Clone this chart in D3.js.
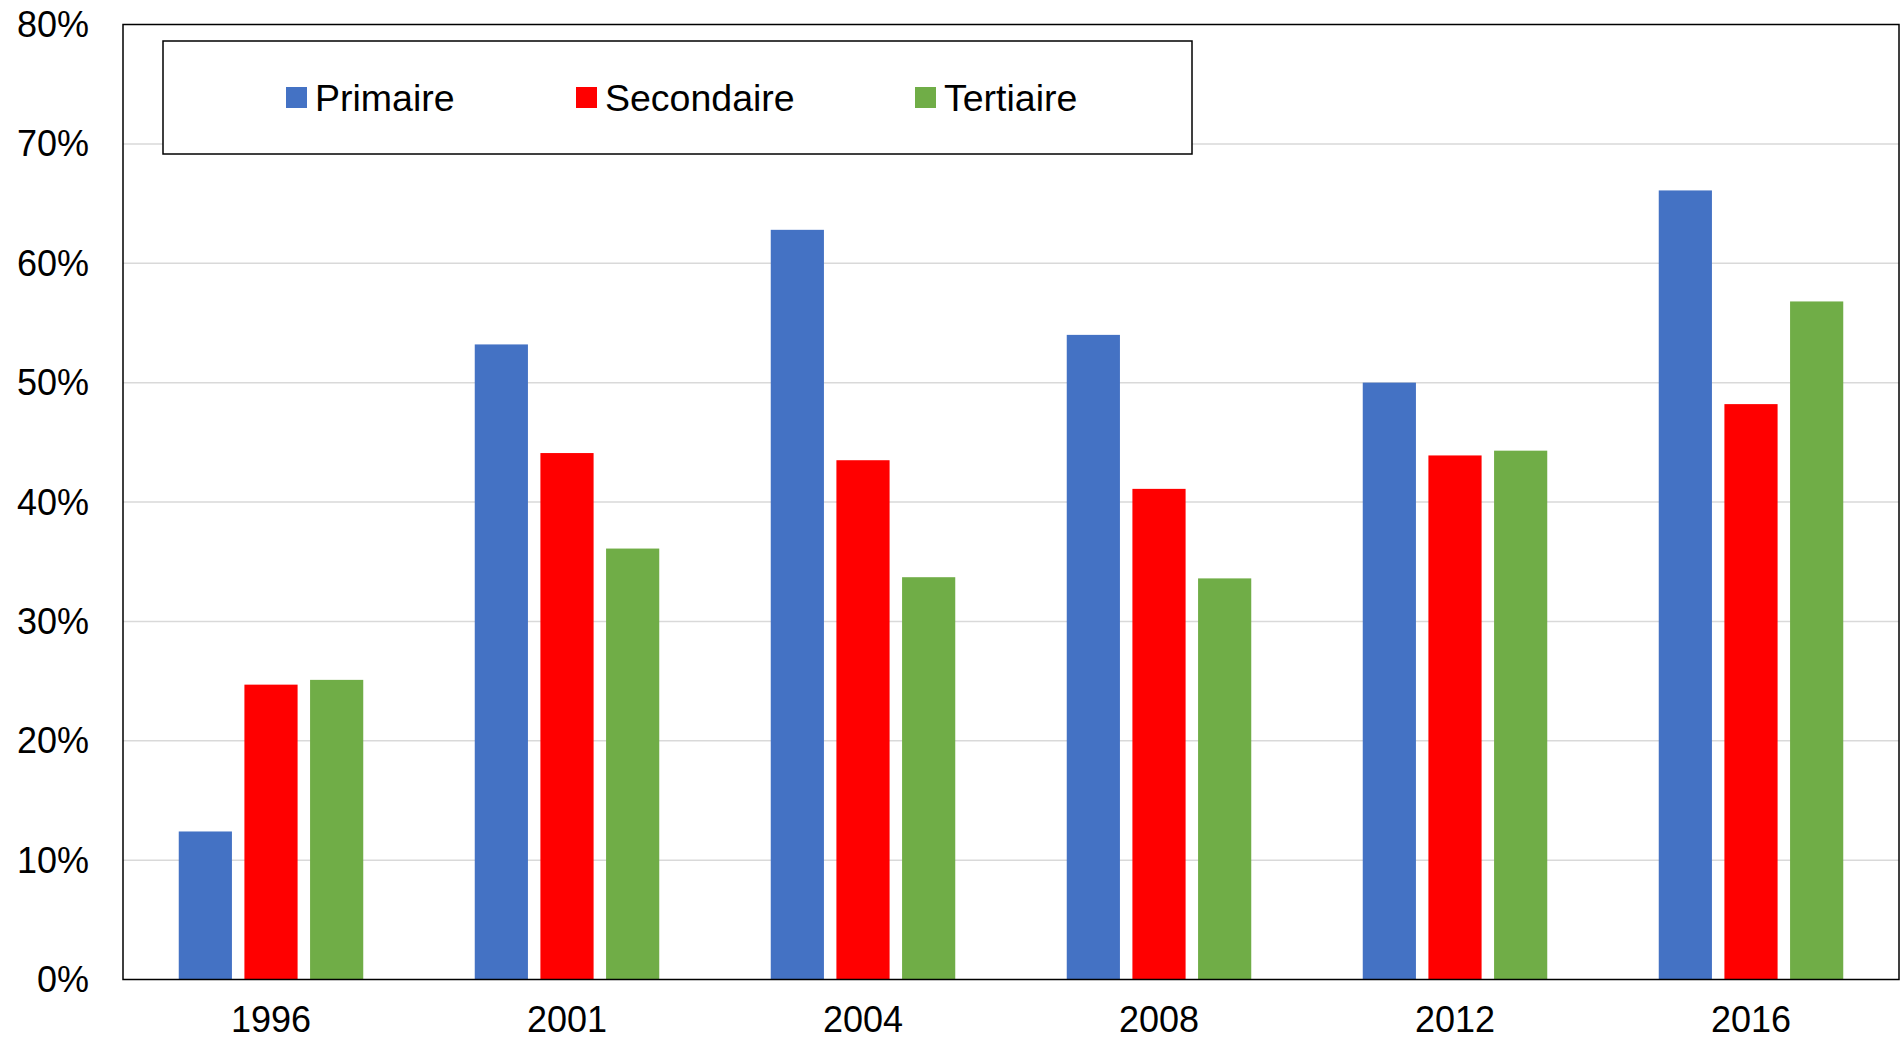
<!DOCTYPE html>
<html>
<head>
<meta charset="utf-8">
<script src="https://cdn.jsdelivr.net/npm/d3@7"></script>
<style>
  body { margin: 0; background: #fff; }
  svg { display: block; font-family: Arial, "Liberation Sans", sans-serif; }
</style>
</head>
<body>
<div id="chart"></div>
<script>
// chart data
const years = ["1996", "2001", "2004", "2008", "2012", "2016"];
const seriesNames = ["Primaire", "Secondaire", "Tertiaire"];
const primaire = [12.4, 53.2, 62.8, 54.0, 50.0, 66.1];
const secondaire = [24.7, 44.1, 43.5, 41.1, 43.9, 48.2];
const tertiaire = [25.1, 36.1, 33.7, 33.6, 44.3, 56.8];
const yTicks = [0, 10, 20, 30, 40, 50, 60, 70, 80];
const colors = ["#4472C4", "#FF0000", "#70AD47"];

const seriesValues = [primaire, secondaire, tertiaire];

const W = 1901, H = 1041;
const margin = { top: 24.5, right: 2, bottom: 61.5, left: 123 };
const width = W - margin.left - margin.right;
const height = H - margin.top - margin.bottom;

const svg = d3.select("#chart")
  .append("svg")
  .attr("width", W)
  .attr("height", H);

const g = svg.append("g")
  .attr("transform", `translate(${margin.left},${margin.top})`);

const x0 = d3.scaleBand()
  .domain(years)
  .range([0, width])
  .padding(0);

const groupW = 184.5; // width of the 3 bars of one year
const x1 = d3.scaleBand()
  .domain(seriesNames)
  .range([0, groupW])
  .paddingInner(0.19)
  .paddingOuter(0);

const y = d3.scaleLinear()
  .domain([0, 80])
  .range([height, 0]);

// gridlines
g.selectAll(".grid")
  .data(yTicks.filter(t => t > 0 && t < 80))
  .enter().append("line")
  .attr("x1", 0)
  .attr("x2", width)
  .attr("y1", d => y(d))
  .attr("y2", d => y(d))
  .attr("stroke", "#d9d9d9")
  .attr("stroke-width", 1.5);

// bars
const groups = g.selectAll(".year")
  .data(years)
  .enter().append("g")
  .attr("transform", d => `translate(${x0(d) + (x0.bandwidth() - groupW) / 2},0)`);

groups.selectAll("rect")
  .data((d, i) => seriesNames.map((s, k) => ({ s, k, v: seriesValues[k][i] })))
  .enter().append("rect")
  .attr("x", d => x1(d.s))
  .attr("width", x1.bandwidth())
  .attr("y", d => y(d.v))
  .attr("height", d => y(0) - y(d.v))
  .attr("fill", d => colors[d.k]);

// plot frame
g.append("rect")
  .attr("x", 0)
  .attr("y", 0)
  .attr("width", width)
  .attr("height", height)
  .attr("fill", "none")
  .attr("stroke", "#000")
  .attr("stroke-width", 1.5);

// y axis labels
g.selectAll(".ylab")
  .data(yTicks)
  .enter().append("text")
  .attr("x", -34)
  .attr("y", d => y(d))
  .attr("dy", "0.35em")
  .attr("text-anchor", "end")
  .attr("font-size", 36)
  .text(d => d + "%");

// x axis labels
g.selectAll(".xlab")
  .data(years)
  .enter().append("text")
  .attr("x", d => x0(d) + x0.bandwidth() / 2)
  .attr("y", height + 52)
  .attr("text-anchor", "middle")
  .attr("font-size", 36)
  .text(d => d);

// legend
const legend = svg.append("g");
legend.append("rect")
  .attr("x", 163)
  .attr("y", 41)
  .attr("width", 1029)
  .attr("height", 113)
  .attr("fill", "#fff")
  .attr("stroke", "#000")
  .attr("stroke-width", 1.5);

const legendX = [286, 576, 915];
const items = legend.selectAll(".item")
  .data(seriesNames)
  .enter().append("g")
  .attr("transform", (d, i) => `translate(${legendX[i]},87)`);

items.append("rect")
  .attr("width", 21)
  .attr("height", 21)
  .attr("fill", (d, i) => colors[i]);

items.append("text")
  .attr("x", 29)
  .attr("y", 10.5)
  .attr("dy", "0.35em")
  .attr("font-size", 37.5)
  .text(d => d);
</script>
</body>
</html>
